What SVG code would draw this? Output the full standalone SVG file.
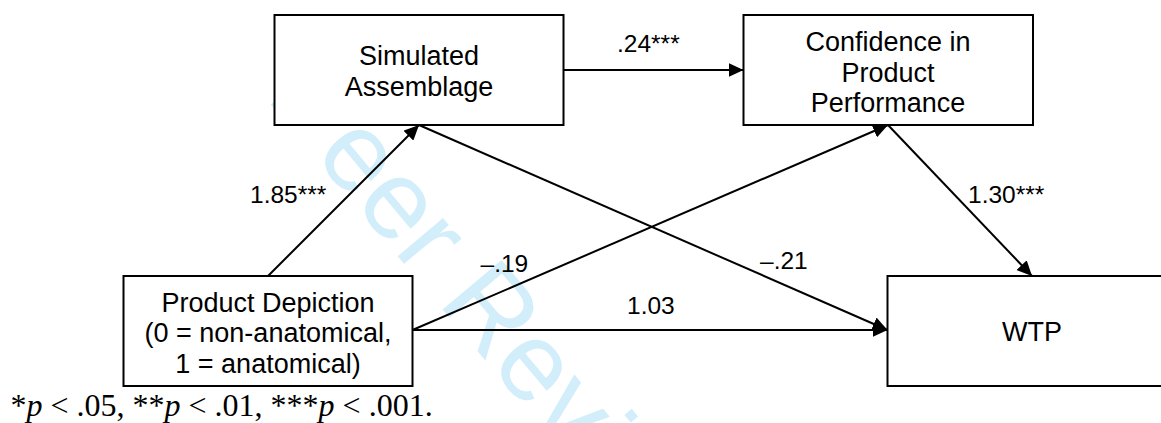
<svg xmlns="http://www.w3.org/2000/svg" width="1161" height="423" viewBox="0 0 1161 423">
  <defs>
    <style>
      .box { fill: #ffffff; stroke: #000000; stroke-width: 2; }
      .node-text { font-family: "Liberation Sans", Arial, sans-serif; font-size: 27px; fill: #000000; text-anchor: middle; }
      .edge { stroke: #000000; stroke-width: 2; fill: none; marker-end: url(#arrow); }
      .coef { font-family: "Liberation Sans", Arial, sans-serif; font-size: 24.5px; fill: #000000; }
      .note { font-family: "Liberation Serif", "Times New Roman", serif; font-size: 32px; fill: #000000; }
      .watermark { font-family: "Liberation Sans", Arial, sans-serif; font-size: 112px; fill: #d2eefb; }
    </style>
    <marker id="arrow" markerUnits="userSpaceOnUse" markerWidth="16" markerHeight="14" refX="15" refY="7" orient="auto">
      <path d="M0,0 L15,7 L0,14 z" fill="#000000"/>
    </marker>
  </defs>

  <rect width="1161" height="423" fill="#ffffff"/>

  <!-- background stamp -->
  <text class="watermark" transform="translate(264.7,97.5) rotate(50)">Peer Review</text>

  <!-- nodes -->
  <g id="simulated-assemblage">
    <rect class="box" x="274.5" y="15" width="289" height="110"/>
    <text class="node-text" x="419" y="64.5">Simulated</text>
    <text class="node-text" x="419" y="95.5">Assemblage</text>
  </g>
  <g id="confidence">
    <rect class="box" x="743.5" y="15" width="289.5" height="110"/>
    <text class="node-text" x="888" y="50.5">Confidence in</text>
    <text class="node-text" x="888" y="81.5">Product</text>
    <text class="node-text" x="888" y="111.5">Performance</text>
  </g>
  <g id="product-depiction">
    <rect class="box" x="123.5" y="276" width="289" height="110"/>
    <text class="node-text" x="268" y="311.5">Product Depiction</text>
    <text class="node-text" x="268" y="342">(0 = non-anatomical,</text>
    <text class="node-text" x="268" y="373">1 = anatomical)</text>
  </g>
  <g id="wtp">
    <rect class="box" x="887.5" y="276" width="300" height="110"/>
    <text class="node-text" x="1032" y="340.5">WTP</text>
  </g>

  <!-- paths between constructs -->
  <g id="connectors">
    <path class="edge" d="M268,276 L419,125"/>
    <path class="edge" d="M563.5,70 L743.5,70"/>
    <path class="edge" d="M419,125 L887.5,330"/>
    <path class="edge" d="M412.5,330 L888,125"/>
    <path class="edge" d="M412.5,330 L887.5,330"/>
    <path class="edge" d="M888,125 L1032,276"/>
  </g>

  <!-- path coefficients -->
  <g id="coefficients">
    <text class="coef" x="250" y="202.5">1.85***</text>
    <text class="coef" x="617" y="52">.24***</text>
    <text class="coef" x="968" y="202.5">1.30***</text>
    <text class="coef" x="480.5" y="271.5">–.19</text>
    <text class="coef" x="760" y="269">–.21</text>
    <text class="coef" x="627" y="314">1.03</text>
  </g>

  <text class="note" x="10.5" y="416">*<tspan font-style="italic">p</tspan> &lt; .05, **<tspan font-style="italic">p</tspan> &lt; .01, ***<tspan font-style="italic">p</tspan> &lt; .001.</text>
</svg>
